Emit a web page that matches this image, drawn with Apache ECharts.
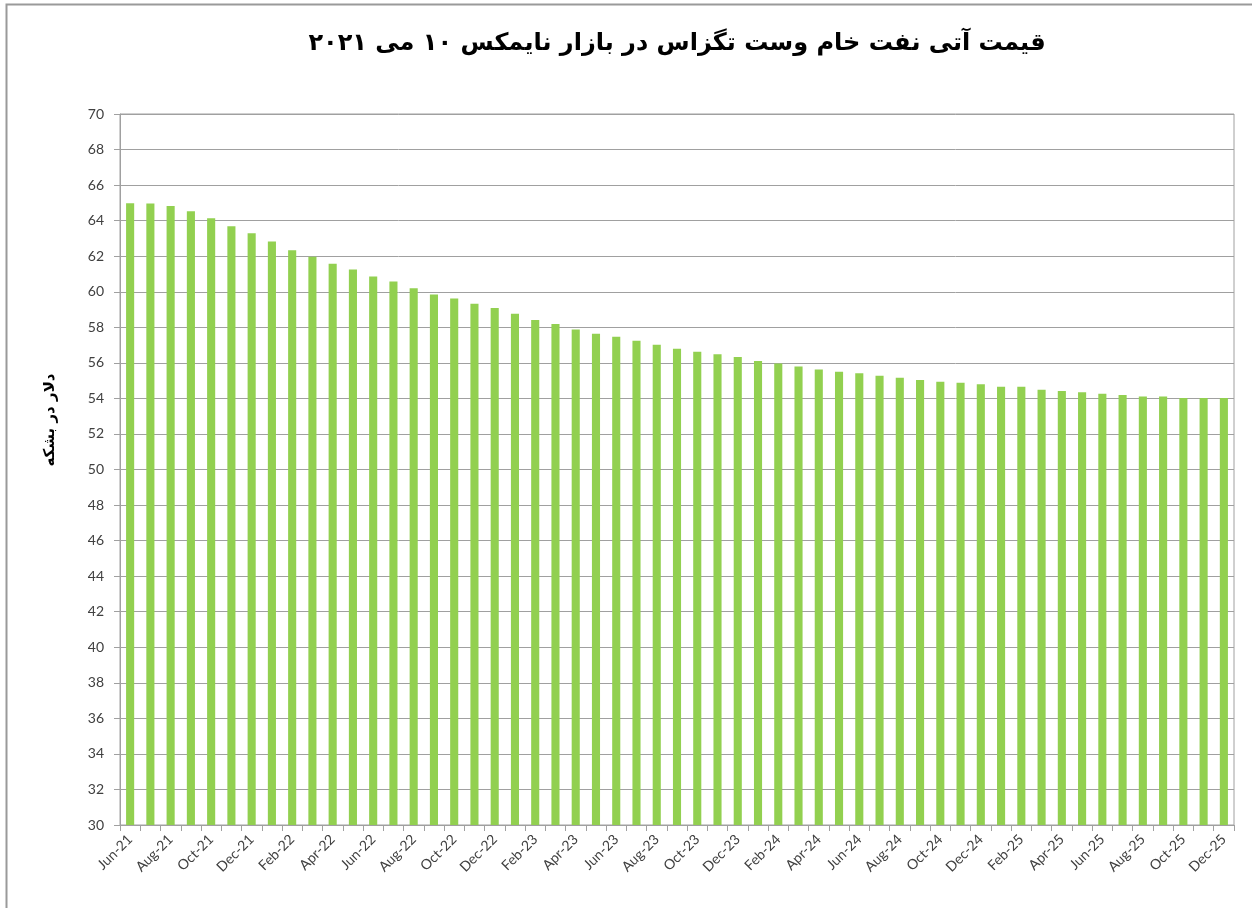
<!DOCTYPE html>
<html>
<head>
<meta charset="utf-8">
<script src="https://cdn.jsdelivr.net/npm/echarts@6/dist/echarts.min.js"></script>
<style>
  html, body { margin: 0; padding: 0; background: #fff; }
  #chart { width: 1252px; height: 908px; }
</style>
</head>
<body>
<div id="chart"></div>
<script>
// months Jun-21 .. Dec-25
const months = [
  "Jun-21", "Jul-21", "Aug-21", "Sep-21", "Oct-21", "Nov-21", "Dec-21",
  "Jan-22", "Feb-22", "Mar-22", "Apr-22", "May-22", "Jun-22", "Jul-22", "Aug-22", "Sep-22", "Oct-22", "Nov-22", "Dec-22",
  "Jan-23", "Feb-23", "Mar-23", "Apr-23", "May-23", "Jun-23", "Jul-23", "Aug-23", "Sep-23", "Oct-23", "Nov-23", "Dec-23",
  "Jan-24", "Feb-24", "Mar-24", "Apr-24", "May-24", "Jun-24", "Jul-24", "Aug-24", "Sep-24", "Oct-24", "Nov-24", "Dec-24",
  "Jan-25", "Feb-25", "Mar-25", "Apr-25", "May-25", "Jun-25", "Jul-25", "Aug-25", "Sep-25", "Oct-25", "Nov-25", "Dec-25"
];

const prices = [
  64.98, 64.97, 64.83, 64.53, 64.14, 63.68, 63.29,
  62.82, 62.33, 61.97, 61.57, 61.25, 60.86, 60.58, 60.19, 59.85, 59.62, 59.32, 59.08,
  58.76, 58.41, 58.19, 57.87, 57.64, 57.47, 57.25, 57.02, 56.79, 56.63, 56.48, 56.33,
  56.11, 55.97, 55.80, 55.63, 55.50, 55.41, 55.27, 55.16, 55.03, 54.93, 54.88, 54.79,
  54.65, 54.65, 54.49, 54.41, 54.34, 54.26, 54.19, 54.11, 54.11, 54.02, 54.02, 54.02
];

const titleText = "قیمت آتی نفت خام وست تگزاس در بازار نایمکس ۱۰ می ۲۰۲۱";
const yName = "دلار در بشکه";
const yMin = 30;
const yMax = 70;
const yStep = 2;

const chart = echarts.init(document.getElementById("chart"));

const options = {
  animation: false,
  backgroundColor: "#fff",
  title: {
    text: titleText,
    left: 672,
    top: 27,
    textAlign: "center",
    textStyle: {
      fontFamily: "DejaVu Sans",
      fontWeight: "bold",
      fontSize: 24,
      color: "#000",
    },
  },
  graphic: [
    {
      type: "rect",
      shape: { x: 6.5, y: 4.5, width: 1260, height: 920 },
      style: { fill: "none", stroke: "#9a9a9a", lineWidth: 2 },
      silent: true,
    },
    {
      // y axis title, placed like the original (centred on the chart, not the plot)
      type: "text",
      x: 50,
      y: 420,
      rotation: Math.PI / 2,
      style: {
        text: yName,
        fontFamily: "DejaVu Sans",
        fontWeight: "bold",
        fontSize: 15,
        fill: "#000",
        align: "center",
        verticalAlign: "middle",
      },
      silent: true,
    },
  ],
  grid: {
    left: 120,
    right: 18,
    top: 114,
    bottom: 83,
    show: true,
    borderColor: "#a0a0a0",
    borderWidth: 1,
  },
  xAxis: {
    type: "category",
    data: months,
    boundaryGap: true,
    axisLine: { lineStyle: { color: "#a0a0a0", width: 1 } },
    axisTick: {
      show: true,
      alignWithLabel: false,
      interval: 0,
      length: 6,
      lineStyle: { color: "#a0a0a0" },
    },
    axisLabel: {
      interval: 1,
      rotate: 45,
      margin: 12,
      color: "#404040",
      fontFamily: "Lato",
      fontSize: 14,
    },
  },
  yAxis: {
    type: "value",
    min: yMin,
    max: yMax,
    interval: yStep,
    axisLine: { show: true, lineStyle: { color: "#a0a0a0", width: 1 } },
    axisTick: { show: true, length: 6, lineStyle: { color: "#a0a0a0" } },
    axisLabel: {
      color: "#404040",
      fontFamily: "Lato",
      fontSize: 14,
      margin: 16,
    },
    splitLine: { show: true, lineStyle: { color: "#a0a0a0", width: 1 } },
  },
  series: [
    {
      type: "bar",
      data: prices,
      barWidth: "40%",
      itemStyle: { color: "#92D050" },
    },
  ],
};

chart.setOption(options);
</script>
</body>
</html>
